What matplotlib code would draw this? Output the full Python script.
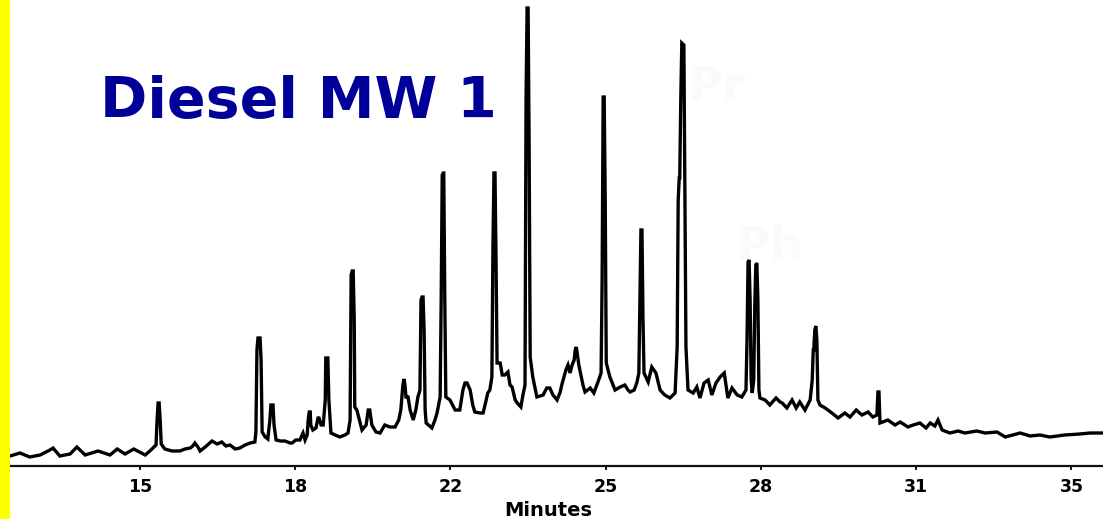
import matplotlib
matplotlib.use("Agg")
import matplotlib.pyplot as plt
from matplotlib.patches import Rectangle

# ---- data ----
title = "Diesel MW 1"
x_label = "Minutes"
tick_pos = [15, 18, 21, 24, 27, 30, 33]
tick_labels = ["15", "18", "22", "25", "28", "31", "35"]
peak_names = ["Pr", "Ph"]
peak_name_rt = [25.59, 26.51]
peak_name_sig = [378, 218]

rt = [
    12.49, 12.68, 12.87, 13.07, 13.26, 13.32, 13.45, 13.65, 13.78, 13.94,
    14.19, 14.42, 14.56, 14.71, 14.88, 15.10, 15.19, 15.25, 15.31, 15.33,
    15.35, 15.37, 15.39, 15.41, 15.48, 15.62, 15.77, 15.87, 15.97, 16.02,
    16.06, 16.12, 16.16, 16.26, 16.39, 16.49, 16.58, 16.66, 16.74, 16.84,
    16.93, 17.03, 17.13, 17.22, 17.24, 17.26, 17.28, 17.32, 17.34, 17.36,
    17.42, 17.47, 17.51, 17.53, 17.57, 17.59, 17.63, 17.71, 17.80, 17.90,
    17.94, 18.01, 18.09, 18.15, 18.19, 18.23, 18.25, 18.27, 18.29, 18.30,
    18.34, 18.40, 18.44, 18.46, 18.50, 18.54, 18.58, 18.59, 18.63, 18.65,
    18.69, 18.77, 18.86, 18.96, 19.02, 19.06, 19.08, 19.10, 19.12, 19.14,
    19.15, 19.19, 19.29, 19.37, 19.41, 19.44, 19.48, 19.56, 19.64, 19.73,
    19.83, 19.93, 20.00, 20.04, 20.08, 20.10, 20.12, 20.14, 20.18, 20.22,
    20.28, 20.33, 20.37, 20.41, 20.43, 20.45, 20.47, 20.49, 20.51, 20.53,
    20.64, 20.70, 20.74, 20.80, 20.82, 20.84, 20.86, 20.87, 20.89, 20.91,
    20.99, 21.09, 21.18, 21.24, 21.28, 21.32, 21.38, 21.43, 21.47, 21.57,
    21.63, 21.69, 21.72, 21.76, 21.80, 21.82, 21.84, 21.86, 21.88, 21.90,
    21.96, 22.00, 22.05, 22.11, 22.15, 22.19, 22.25, 22.29, 22.36, 22.40,
    22.44, 22.46, 22.48, 22.50, 22.52, 22.54, 22.59, 22.67, 22.79, 22.86,
    22.92, 22.98, 23.06, 23.12, 23.15, 23.23, 23.27, 23.31, 23.35, 23.39,
    23.41, 23.43, 23.44, 23.48, 23.50, 23.56, 23.60, 23.70, 23.77, 23.85,
    23.91, 23.93, 23.95, 23.97, 23.99, 24.01, 24.08, 24.18, 24.28, 24.37,
    24.43, 24.47, 24.55, 24.60, 24.64, 24.66, 24.68, 24.70, 24.72, 24.74,
    24.82, 24.89, 24.97, 25.05, 25.14, 25.24, 25.34, 25.38, 25.40, 25.42,
    25.43, 25.45, 25.47, 25.51, 25.53, 25.55, 25.59, 25.69, 25.76, 25.82,
    25.90, 25.98, 26.05, 26.13, 26.21, 26.29, 26.36, 26.44, 26.54, 26.63,
    26.71, 26.73, 26.75, 26.77, 26.79, 26.81, 26.83, 26.86, 26.88, 26.90,
    26.92, 26.94, 26.96, 26.98, 27.08, 27.17, 27.29, 27.37, 27.41, 27.50,
    27.60, 27.68, 27.75, 27.85, 27.95, 27.99, 28.01, 28.02, 28.04, 28.06,
    28.08, 28.10, 28.14, 28.24, 28.37, 28.49, 28.62, 28.72, 28.84, 28.95,
    29.07, 29.16, 29.24, 29.26, 29.28, 29.30, 29.45, 29.59, 29.69, 29.84,
    29.94, 30.07, 30.19, 30.27, 30.36, 30.42, 30.50, 30.65, 30.81, 30.94,
    31.17, 31.33, 31.56, 31.72, 32.01, 32.20, 32.39, 32.58, 32.87, 33.16,
    33.36, 33.61,
]

signal = [
    10, 13, 9, 11, 16, 18, 10, 12, 19, 11,
    15, 11, 17, 12, 17, 11, 15, 18, 21, 46,
    63, 63, 46, 22, 17, 15, 15, 17, 18, 20,
    23, 19, 15, 19, 25, 22, 24, 20, 21, 17,
    18, 21, 23, 24, 34, 116, 128, 128, 106, 34,
    29, 27, 46, 61, 61, 41, 26, 25, 25, 23,
    23, 26, 26, 33, 26, 31, 46, 54, 54, 41,
    36, 38, 48, 48, 41, 41, 66, 108, 108, 66,
    33, 31, 29, 31, 33, 46, 191, 195, 195, 146,
    59, 56, 36, 41, 56, 56, 41, 34, 33, 41,
    39, 39, 46, 56, 81, 87, 81, 69, 69, 56,
    46, 56, 69, 76, 166, 169, 169, 136, 56, 43,
    38, 46, 53, 69, 166, 291, 293, 293, 166, 69,
    66, 56, 56, 76, 83, 83, 76, 61, 54, 53,
    53, 66, 73, 76, 89, 216, 293, 293, 206, 103,
    103, 91, 91, 94, 81, 79, 66, 63, 59, 71,
    81, 366, 458, 458, 316, 109, 89, 69, 71, 78,
    78, 71, 66, 74, 81, 96, 101, 93, 101, 106,
    116, 119, 116, 101, 96, 81, 74, 78, 73, 84,
    93, 186, 369, 369, 266, 103, 89, 76, 79, 81,
    76, 74, 76, 83, 93, 166, 236, 236, 146, 93,
    84, 99, 93, 76, 71, 68, 73, 119, 266, 288,
    288, 366, 423, 421, 266, 119, 76, 73, 79, 68,
    83, 86, 71, 83, 89, 93, 68, 78, 71, 69,
    76, 126, 204, 206, 166, 86, 73, 86, 161, 201,
    203, 166, 76, 68, 66, 61, 68, 64, 63, 58,
    66, 58, 64, 56, 66, 86, 116, 116, 136, 140,
    126, 66, 61, 58, 53, 48, 53, 49, 56, 51,
    54, 49, 51, 74, 74, 43, 46, 41, 44, 39,
    41, 43, 38, 43, 40, 46, 36, 33, 35, 33,
    35, 33, 34, 29, 33, 30, 31, 29, 31, 32,
    33, 33,
]

# ---- figure ----
W, H = 1103, 519
fig = plt.figure(figsize=(W / 100, H / 100), dpi=100)
fig.patch.set_facecolor("white")

# yellow strip at the left edge
fig.patches.append(Rectangle((0, 0), 10 / W, 1, transform=fig.transFigure,
                             facecolor="#ffff00", edgecolor="none", zorder=0))

ax = fig.add_axes([10 / W, 53 / H, 1 - 10 / W, 1 - 53 / H])
ax.set_facecolor("white")

# faint (white-on-white) peak names
for name, x, y in zip(peak_names, peak_name_rt, peak_name_sig):
    ax.text(x, y, name, fontsize=34, fontweight="bold", color="#fafafa",
            ha="left", va="center", fontfamily="DejaVu Sans", zorder=0)

ax.plot(rt, signal, color="black", linewidth=2.4, solid_joinstyle="miter",
        clip_on=False, zorder=2)

ax.set_xlim(12.488, 33.609)
ax.set_ylim(0, 466)

for side in ("top", "right", "left"):
    ax.spines[side].set_visible(False)
ax.spines["bottom"].set_linewidth(1.6)
ax.spines["bottom"].set_color("#111111")
ax.set_yticks([])
ax.set_xticks(tick_pos)
ax.set_xticklabels(tick_labels, fontfamily="DejaVu Sans", fontweight="bold",
                   fontsize=12.5)
ax.tick_params(axis="x", direction="out", length=3, width=1.3, pad=6,
               colors="black")

ax.set_xlabel(x_label, fontfamily="DejaVu Sans", fontsize=14,
              fontweight="bold", va="center")
ax.xaxis.set_label_coords((548 - 10) / 1093, (466 - 510) / 466)

fig.text(100 / W, (H - 118) / H, title, fontsize=41, fontweight="bold",
         color="#000099", ha="left", va="baseline",
         fontfamily="DejaVu Sans")

fig.savefig("out.png", dpi=100, facecolor="white")
